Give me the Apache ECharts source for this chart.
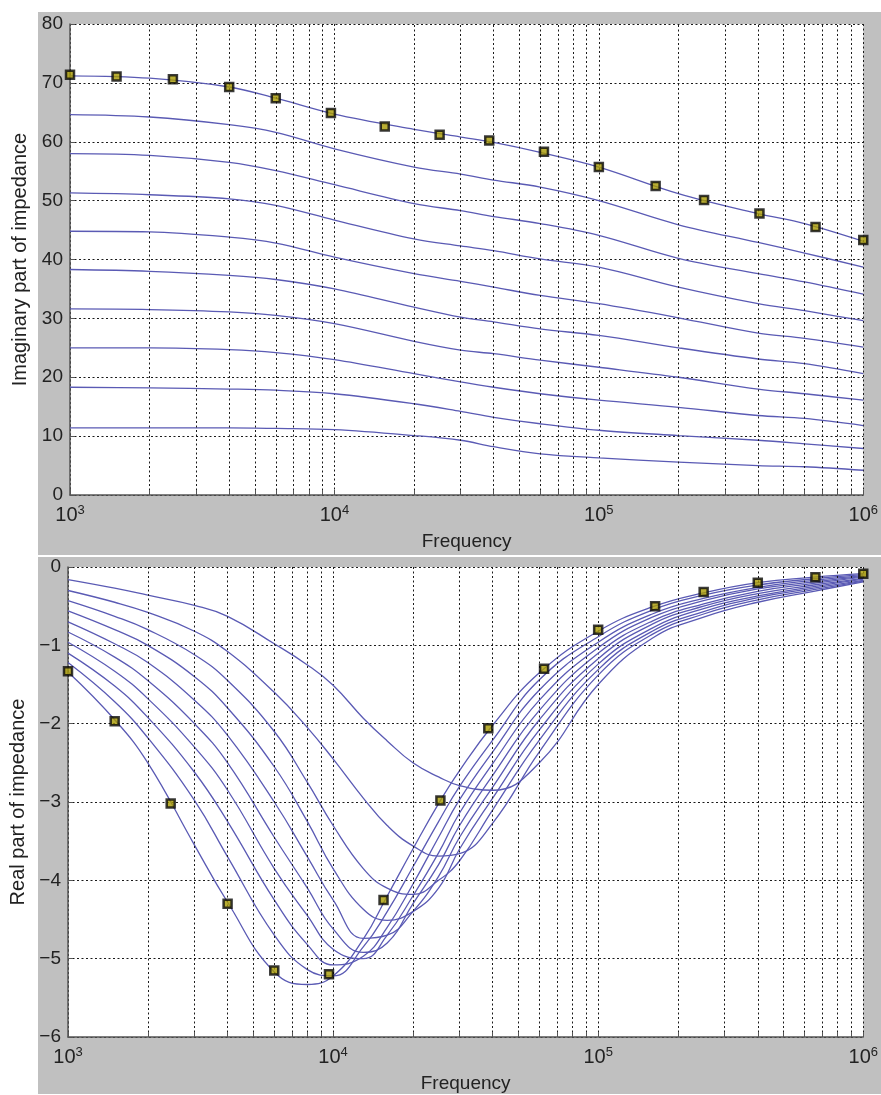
<!DOCTYPE html>
<html><head><meta charset="utf-8">
<script src="https://cdn.jsdelivr.net/npm/echarts@6/dist/echarts.min.js"></script>
<style>html,body{margin:0;padding:0;background:#fff}#c{width:881px;height:1095px}</style>
</head><body><div id="c"></div>
<script>
// ---------- Top chart: imaginary part ----------
const freqTop = [1000, 2000, 4000, 6000, 10000, 20000, 30000, 40000, 60000, 100000, 200000, 400000, 600000, 1000000];
const imag1  = [71.2, 70.8, 69.3, 67.4, 64.7, 62.1, 60.8, 59.9, 58.2, 55.7, 51.2, 47.8, 46.1, 43.1];
const imag2  = [64.6, 64.2, 62.9, 61.6, 58.8, 55.7, 54.5, 53.5, 52.3, 50.0, 45.9, 42.9, 41.1, 38.7];
const imag3  = [58.0, 57.7, 56.5, 55.1, 52.7, 49.5, 48.3, 47.3, 46.1, 44.1, 40.2, 37.6, 36.2, 34.1];
const imag4  = [51.3, 51.0, 50.3, 49.2, 46.7, 43.5, 42.3, 41.5, 40.1, 38.7, 35.3, 32.5, 31.3, 29.6];
const imag5  = [44.8, 44.7, 43.8, 42.8, 40.4, 37.6, 36.3, 35.3, 33.9, 32.5, 30.1, 27.5, 26.6, 25.1];
const imag6  = [38.3, 38.0, 37.3, 36.6, 35.0, 31.9, 30.2, 29.4, 28.2, 27.1, 25.0, 23.1, 22.3, 20.6];
const imag7  = [31.6, 31.5, 31.1, 30.5, 29.1, 26.1, 24.6, 24.0, 22.9, 21.7, 20.0, 18.0, 17.2, 16.1];
const imag8  = [25.0, 25.0, 24.7, 24.2, 23.0, 20.6, 19.2, 18.3, 17.2, 16.1, 14.9, 13.5, 13.0, 11.8];
const imag9  = [18.3, 18.2, 18.0, 17.8, 17.2, 15.5, 14.2, 13.2, 12.1, 11.0, 10.1, 9.3, 8.7, 7.9];
const imag10 = [11.4, 11.4, 11.4, 11.3, 11.1, 10.1, 9.3, 8.2, 7.0, 6.3, 5.6, 5.0, 4.8, 4.2];
const markFreqTop = [1000, 1500, 2450, 4000, 6000, 9700, 15500, 25000, 38500, 62000, 100000, 164000, 250000, 405000, 660000, 1000000];
const markImag    = [71.4, 71.1, 70.6, 69.3, 67.4, 64.9, 62.6, 61.2, 60.2, 58.3, 55.7, 52.5, 50.1, 47.8, 45.5, 43.3];

// ---------- Bottom chart: real part ----------
const freqBot = [1000, 1500, 2000, 3000, 4000, 6000, 8000, 10000, 13000, 16000, 20000, 25000, 30000, 40000, 60000, 100000, 160000, 250000, 400000, 650000, 1000000];
const realA = [-0.16, -0.27, -0.36, -0.49, -0.63, -0.98, -1.25, -1.51, -1.93, -2.22, -2.50, -2.68, -2.79, -2.85, -2.50, -1.50, -0.91, -0.64, -0.45, -0.31, -0.19];
const realB = [-0.30, -0.45, -0.58, -0.82, -1.08, -1.60, -2.05, -2.45, -2.95, -3.30, -3.56, -3.69, -3.66, -3.27, -2.36, -1.38, -0.86, -0.60, -0.42, -0.29, -0.18];
const realC = [-0.43, -0.63, -0.80, -1.12, -1.45, -2.10, -2.75, -3.30, -3.85, -4.10, -4.18, -4.00, -3.75, -3.10, -2.21, -1.31, -0.82, -0.57, -0.39, -0.27, -0.17];
const realD = [-0.56, -0.80, -1.00, -1.40, -1.80, -2.55, -3.25, -3.85, -4.37, -4.51, -4.40, -4.10, -3.60, -2.95, -2.08, -1.24, -0.78, -0.53, -0.37, -0.25, -0.155];
const realE = [-0.70, -0.98, -1.22, -1.70, -2.15, -3.00, -3.70, -4.25, -4.74, -4.70, -4.40, -3.95, -3.45, -2.81, -1.95, -1.17, -0.73, -0.50, -0.34, -0.23, -0.145];
const realF = [-0.83, -1.15, -1.45, -2.00, -2.50, -3.45, -4.10, -4.62, -4.92, -4.80, -4.30, -3.80, -3.30, -2.66, -1.83, -1.10, -0.69, -0.47, -0.31, -0.21, -0.13];
const realG = [-0.96, -1.33, -1.68, -2.30, -2.85, -3.85, -4.45, -4.88, -5.00, -4.70, -4.20, -3.65, -3.14, -2.51, -1.70, -1.03, -0.64, -0.43, -0.28, -0.19, -0.12];
const realH = [-1.10, -1.52, -1.92, -2.62, -3.25, -4.25, -4.82, -5.08, -4.97, -4.60, -4.05, -3.45, -2.97, -2.36, -1.57, -0.96, -0.60, -0.40, -0.26, -0.17, -0.11];
const realI = [-1.22, -1.72, -2.18, -2.98, -3.70, -4.70, -5.14, -5.22, -4.85, -4.40, -3.83, -3.25, -2.80, -2.21, -1.44, -0.89, -0.55, -0.36, -0.23, -0.15, -0.097];
const realJ = [-1.34, -1.95, -2.50, -3.55, -4.28, -5.17, -5.33, -5.22, -4.75, -4.20, -3.60, -3.02, -2.60, -2.02, -1.35, -0.82, -0.51, -0.33, -0.20, -0.13, -0.085];
const markFreqBot = [1000, 1500, 2440, 4000, 6000, 9650, 15500, 25400, 38500, 62500, 100000, 164000, 250000, 400000, 660000, 1000000];
const markReal    = [-1.33, -1.97, -3.02, -4.30, -5.15, -5.20, -4.25, -2.98, -2.06, -1.30, -0.80, -0.50, -0.32, -0.20, -0.13, -0.085];

// minor log grid positions
const minorFreqs = [2000,3000,4000,5000,6000,7000,8000,9000,20000,30000,40000,50000,60000,70000,80000,90000,200000,300000,400000,500000,600000,700000,800000,900000];

const FONT = "'Liberation Sans', Arial, Helvetica, sans-serif";
const LINE = '#5a5ab4';
const GRIDC = '#1a1a1a';
const DASH = [2, 2.5];

const chart = echarts.init(document.getElementById('c'), null, {renderer:'canvas'});

function xAxisOf(gi){
  return {
    type:'log', logBase:10, min:1000, max:1000000, gridIndex:gi,
    name:'Frequency', nameLocation:'middle', nameGap:37,
    nameTextStyle:{fontFamily:FONT, fontSize:19, color:'#222'},
    axisLine:{show:true, onZero:false, lineStyle:{color:'#555', width:1.5}},
    axisTick:{show:true, inside:true, length:5, lineStyle:{color:'#555'}},
    splitLine:{show:true, lineStyle:{type:DASH, color:GRIDC, width:1}},
    axisLabel:{
      margin:9, color:'#222',
      formatter: v => '{b|10}{s|' + Math.round(Math.log10(v)) + '}',
      rich:{ b:{fontFamily:FONT, fontSize:20, color:'#222', lineHeight:22},
             s:{fontFamily:FONT, fontSize:13, color:'#222', lineHeight:12, verticalAlign:'top'} }
    }
  };
}
function yAxisOf(gi, min, max, name){
  return {
    type:'value', gridIndex:gi, min:min, max:max, interval:(gi===0?10:1),
    name:name, nameLocation:'middle', nameGap:40,
    nameTextStyle:{fontFamily:FONT, fontSize:20, color:'#222'},
    axisLine:{show:true, onZero:false, lineStyle:{color:'#555', width:1.5}},
    axisTick:{show:true, inside:true, length:5, lineStyle:{color:'#555'}},
    splitLine:{show:true, lineStyle:{type:DASH, color:GRIDC, width:1}},
    axisLabel:{margin:7, fontFamily:FONT, fontSize:19, color:'#222',
      formatter: v => String(v).replace('-', '\u2212')}
  };
}

const topCurves = [imag1, imag2, imag3, imag4, imag5, imag6, imag7, imag8, imag9, imag10];
const botCurves = [realA, realB, realC, realD, realE, realF, realG, realH, realI, realJ];

const series = [];
function minorMark(){
  return {silent:true, symbol:'none', animation:false, label:{show:false},
    lineStyle:{type:DASH, color:GRIDC, width:1},
    data: minorFreqs.map(v => ({xAxis:v}))};
}
function minorTicks(y0, len){
  return {silent:true, symbol:'none', animation:false, label:{show:false},
    lineStyle:{type:'solid', color:'#555', width:1},
    data: minorFreqs.map(v => [{coord:[v, y0]}, {coord:[v, y0 + len]}])};
}
topCurves.forEach((arr, i) => {
  const s = {type:'line', xAxisIndex:0, yAxisIndex:0, showSymbol:false, smooth:0.35,
    lineStyle:{color:LINE, width:1.3}, data: freqTop.map((f, k) => [f, arr[k]]), z:3};
  if (i === 0) s.markLine = minorMark();
  if (i === 1) s.markLine = minorTicks(0, 0.85);
  series.push(s);
});
botCurves.forEach((arr, i) => {
  const s = {type:'line', xAxisIndex:1, yAxisIndex:1, showSymbol:false, smooth:0.45,
    lineStyle:{color:LINE, width:1.3}, data: freqBot.map((f, k) => [f, arr[k]]), z:3};
  if (i === 0) s.markLine = minorMark();
  if (i === 1) s.markLine = minorTicks(-6, 0.065);
  series.push(s);
});
const markStyle = {color:'#a89a00', borderColor:'#0a0a0a', borderWidth:2.5};
series.push({type:'scatter', xAxisIndex:0, yAxisIndex:0, symbol:'rect', symbolSize:8,
  itemStyle:markStyle, data: markFreqTop.map((f,k)=>[f, markImag[k]]), z:5});
series.push({type:'scatter', xAxisIndex:1, yAxisIndex:1, symbol:'rect', symbolSize:8,
  itemStyle:markStyle, data: markFreqBot.map((f,k)=>[f, markReal[k]]), z:5});

chart.setOption({
  animation:false,
  backgroundColor:'#fff',
  graphic:[
    {type:'rect', z:-100, silent:true, shape:{x:38, y:12, width:843, height:543}, style:{fill:'#c0c0c0'}},
    {type:'rect', z:-100, silent:true, shape:{x:38, y:557, width:843, height:537}, style:{fill:'#c0c0c0'}}
  ],
  grid:[
    {left:70, top:24, width:795, height:471, show:true, backgroundColor:'#fff', borderWidth:0},
    {left:67, top:567, width:807, height:470, show:true, backgroundColor:'#fff', borderWidth:0}
  ],
  xAxis:[xAxisOf(0), xAxisOf(1)],
  yAxis:[yAxisOf(0, 0, 80, 'Imaginary part of impedance'), yAxisOf(1, -6, 0, 'Real part of impedance')],
  series: series
});
</script></body></html>
